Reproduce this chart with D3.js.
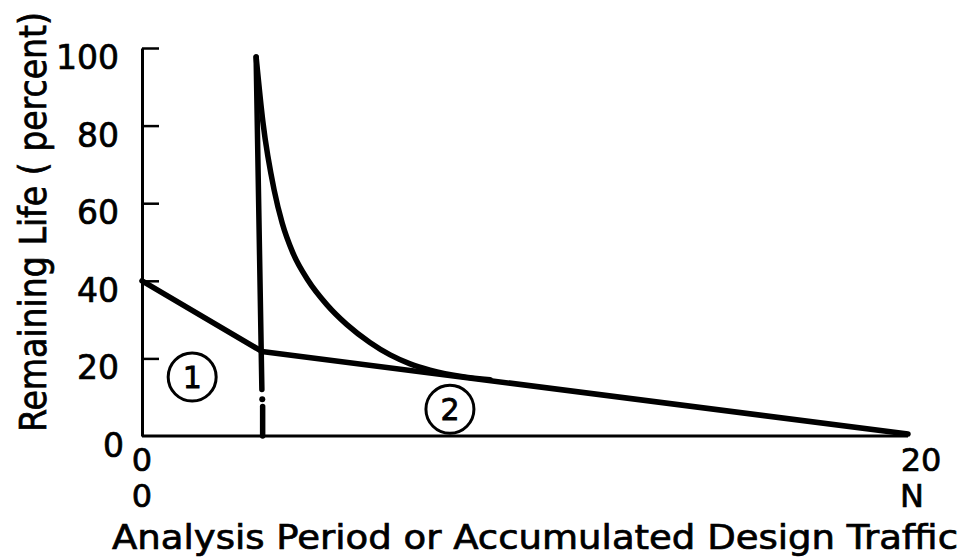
<!DOCTYPE html>
<html>
<head>
<meta charset="utf-8">
<script src="https://cdn.jsdelivr.net/npm/d3@7"></script>
<style>
  html, body { margin: 0; padding: 0; background: #fff; }
  svg { display: block; }
  text { font-family: "DejaVu Sans", sans-serif; fill: #000; }
</style>
</head>
<body>
<svg id="chart" width="966" height="560"></svg>
<script>
// Axis ticks and labels
const yTicks = [0, 20, 40, 60, 80, 100];
const xTicks = [0, 20];
const xTickLabels = ["0", "20"];
const xSubLabels = ["0", "N"];

// Remaining life before the overlay (zone 1)
const line1X = [0, 3.13];
const line1Y = [40, 21.8];

// Remaining life after the overlay, straight decline to end of period (zone 2)
const line2X = [3.13, 20];
const line2Y = [21.8, 0.5];

// Remaining life of the overlay itself, dropping to meet zone 2
const curveX = [2.98, 3.16, 3.45, 3.66, 3.94, 4.33, 4.83, 5.35, 5.95, 6.48, 7.00, 7.52, 8.38, 9.09];
const curveY = [97.7, 80.7, 63.4, 54.9, 47.2, 40.2, 33.8, 28.7, 24.1, 20.9, 18.6, 17.0, 15.3, 14.5];

// Time of overlay: solid stroke, a dot, then a short stroke to the axis
const overlayX = [2.98, 3.13, 3.14, 3.15, 3.15];
const overlayY = [97.7, 12, 9.5, 7.6, 0];

// Zone markers
const zoneLabels = ["1", "2"];
const zoneX = [1.31, 8.04];
const zoneY = [15.2, 6.9];

const svg = d3.select("#chart");
const x = d3.scaleLinear().domain([0, 20]).range([142, 908]);
const y = d3.scaleLinear().domain([0, 100]).range([436, 48]);

// Left axis with inward ticks
const yAxis = d3.axisLeft(y)
  .tickValues(yTicks)
  .tickSizeInner(-17)
  .tickSizeOuter(0)
  .tickPadding(23)
  .tickFormat(d3.format("d"));
const gy = svg.append("g").attr("transform", `translate(${x(0)},0)`).call(yAxis);
gy.select(".domain").attr("stroke", "#000").attr("stroke-width", 3);
gy.selectAll(".tick line").attr("stroke", "#000").attr("stroke-width", 2.5)
  .attr("display", d => d === 0 ? "none" : null);
gy.selectAll(".tick text")
  .attr("font-family", "DejaVu Sans, sans-serif")
  .attr("font-size", 33)
  .attr("fill", "#000")
  .attr("stroke", "#000").attr("stroke-width", 0.7)
  .attr("dy", "0.62em")
  .attr("x", d => d === 0 ? -18 : -23);

// Bottom axis line
svg.append("line")
  .attr("x1", x(0)).attr("x2", x(20))
  .attr("y1", y(0)).attr("y2", y(0))
  .attr("stroke", "#000").attr("stroke-width", 3);

// Bottom tick labels (two rows)
const xl = svg.append("g").attr("font-size", 32).attr("text-anchor", "middle")
  .attr("stroke", "#000").attr("stroke-width", 0.7);
xl.selectAll("text.row1").data(xTicks).join("text").attr("class", "row1")
  .attr("x", (d, i) => x(d) + (i ? 13 : 0)).attr("y", 471)
  .text((d, i) => xTickLabels[i]);
xl.selectAll("text.row2").data(xTicks).join("text").attr("class", "row2")
  .attr("x", (d, i) => x(d) + (i ? 4 : 0)).attr("y", 507)
  .text((d, i) => xSubLabels[i]);

const lineGen = d3.line().x(d => x(d[0])).y(d => y(d[1]));
const thick = 5.5;

svg.append("path")
  .attr("d", lineGen(d3.zip(line1X, line1Y)))
  .attr("fill", "none").attr("stroke", "#000").attr("stroke-width", thick)
  .attr("stroke-linecap", "round");

svg.append("path")
  .attr("d", lineGen(d3.zip(line2X, line2Y)))
  .attr("fill", "none").attr("stroke", "#000").attr("stroke-width", thick)
  .attr("stroke-linecap", "round");

const curveGen = d3.line().x(d => x(d[0])).y(d => y(d[1])).curve(d3.curveMonotoneX);
svg.append("path")
  .attr("d", curveGen(d3.zip(curveX, curveY)))
  .attr("fill", "none").attr("stroke", "#000").attr("stroke-width", thick)
  .attr("stroke-linecap", "round");

// Overlay marker line
const ov = d3.zip(overlayX, overlayY);
svg.append("path")
  .attr("d", lineGen(ov.slice(0, 2)))
  .attr("fill", "none").attr("stroke", "#000").attr("stroke-width", thick)
  .attr("stroke-linecap", "round");
svg.append("circle")
  .attr("cx", x(ov[2][0])).attr("cy", y(ov[2][1])).attr("r", 3)
  .attr("fill", "#000");
svg.append("path")
  .attr("d", lineGen(ov.slice(3)))
  .attr("fill", "none").attr("stroke", "#000").attr("stroke-width", thick)
  .attr("stroke-linecap", "round");

// Zone markers
const zones = svg.append("g").selectAll("g").data(zoneLabels).join("g")
  .attr("transform", (d, i) => `translate(${x(zoneX[i])},${y(zoneY[i])})`);
zones.append("circle").attr("r", 24).attr("fill", "#fff")
  .attr("stroke", "#000").attr("stroke-width", 3);
zones.append("text").attr("text-anchor", "middle").attr("dy", "0.36em")
  .attr("font-size", 30).attr("stroke", "#000").attr("stroke-width", 0.8)
  .text(d => d);

// Axis titles
svg.append("text")
  .attr("transform", "translate(46,222) rotate(-90)")
  .attr("text-anchor", "middle")
  .attr("font-family", "'DejaVu Sans Condensed', 'DejaVu Sans', sans-serif")
  .attr("font-stretch", "condensed")
  .attr("font-size", 37)
  .attr("stroke", "#000").attr("stroke-width", 0.7)
  .attr("textLength", 420).attr("lengthAdjust", "spacingAndGlyphs")
  .text("Remaining Life ( percent)");

svg.append("text")
  .attr("x", 112).attr("y", 549)
  .attr("font-size", 33)
  .attr("stroke", "#000").attr("stroke-width", 0.7)
  .attr("textLength", 846).attr("lengthAdjust", "spacingAndGlyphs")
  .text("Analysis Period or Accumulated Design Traffic");
</script>
</body>
</html>
